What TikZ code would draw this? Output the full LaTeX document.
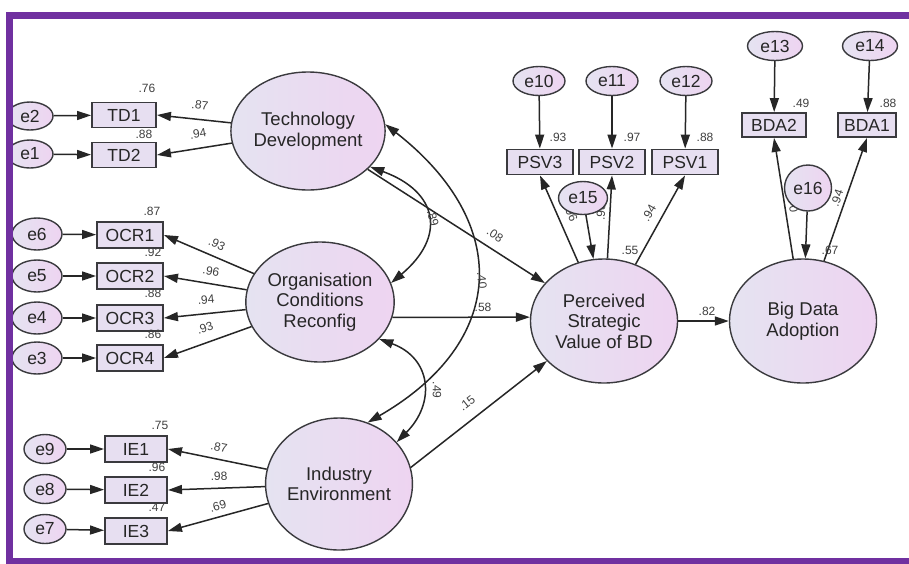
\documentclass[tikz,border=0pt]{standalone}
\usepackage{fontspec}
\setmainfont{Liberation Sans}
\usetikzlibrary{arrows.meta, shapes.geometric}

\definecolor{framepurple}{RGB}{112,48,160}
\definecolor{lavleft}{RGB}{229,227,241}
\definecolor{lavright}{RGB}{238,212,241}
\definecolor{boxfill}{RGB}{231,223,241}
\definecolor{edgegray}{RGB}{58,58,62}

\begin{document}
\begin{tikzpicture}[
  x=1pt, y=-1pt,
  >={Triangle[length=14pt,width=9pt]},
  latent/.style={ellipse, draw=edgegray, line width=1.4pt, left color=lavleft, right color=lavright, inner sep=0pt, align=center, text=black!85, font=\fontsize{18.5}{20.5}\selectfont},
  obs/.style={rectangle, draw=edgegray, line width=1.9pt, fill=boxfill, minimum width=64pt, minimum height=25pt, inner sep=0pt, text=black!85, font=\fontsize{17.5}{17.5}\selectfont},
  err/.style={ellipse, draw=edgegray, line width=1.4pt, left color=lavleft, right color=lavright, minimum width=48pt, minimum height=30pt, inner sep=0pt, text=black!85, font=\fontsize{17.5}{17.5}\selectfont},
  coef/.style={inner sep=0pt, text=black!75, font=\fontsize{12}{12}\selectfont},
  reg/.style={->, line width=1.5pt, draw=black!85},
  cov/.style={<->, line width=1.5pt, draw=black!85}
]
\useasboundingbox (0,0) rectangle (909,563);
\fill[white] (0,0) rectangle (909,563);

% latent constructs
\node[latent, minimum width=137pt, minimum height=118pt] (td) at (308,131) {Technology\\Development};
\node[latent, minimum width=140pt, minimum height=120pt] (ocr) at (320,302) {Organisation\\Conditions\\Reconfig};
\node[latent, minimum width=138pt, minimum height=132pt] (ie) at (339,484) {Industry\\Environment};
\node[latent, minimum width=147pt, minimum height=124pt] (psv) at (604,321) {Perceived\\Strategic\\Value of BD};
\node[latent, minimum width=147pt, minimum height=124pt] (bda) at (803,321) {Big Data\\Adoption};

% indicators
\node[obs] (td1) at (124,115) {TD1};
\node[obs] (td2) at (124,155) {TD2};
\node[obs, minimum width=66pt, minimum height=26pt] (ocr1) at (130,235) {OCR1};
\node[obs, minimum width=66pt, minimum height=26pt] (ocr2) at (130,276) {OCR2};
\node[obs, minimum width=66pt, minimum height=26pt] (ocr3) at (130,318) {OCR3};
\node[obs, minimum width=66pt, minimum height=26pt] (ocr4) at (130,358) {OCR4};
\node[obs, minimum width=62pt, minimum height=26pt] (ie1) at (136,449) {IE1};
\node[obs, minimum width=62pt, minimum height=26pt] (ie2) at (136,490) {IE2};
\node[obs, minimum width=62pt, minimum height=26pt] (ie3) at (136,531) {IE3};
\node[obs, minimum width=66pt] (psv3) at (540,162) {PSV3};
\node[obs, minimum width=66pt] (psv2) at (612,162) {PSV2};
\node[obs, minimum width=66pt] (psv1) at (685,162) {PSV1};
\node[obs, minimum height=24pt] (bda2) at (774,125) {BDA2};
\node[obs, minimum width=58pt, minimum height=24pt] (bda1) at (867,125) {BDA1};

% error terms
\node[err, minimum width=46pt, minimum height=28pt] (e2) at (30,116) {e2};
\node[err, minimum width=46pt, minimum height=28pt] (e1) at (30,154) {e1};
\node[err, minimum width=50pt, minimum height=32pt] (e6) at (37,234) {e6};
\node[err, minimum width=50pt, minimum height=32pt] (e5) at (37,276) {e5};
\node[err, minimum width=50pt, minimum height=32pt] (e4) at (37,318) {e4};
\node[err, minimum width=50pt, minimum height=32pt] (e3) at (37,358) {e3};
\node[err, minimum width=42pt, minimum height=29pt] (e9) at (45,449) {e9};
\node[err, minimum width=42pt, minimum height=29pt] (e8) at (45,489) {e8};
\node[err, minimum width=42pt, minimum height=29pt] (e7) at (45,529) {e7};
\node[err, minimum width=52pt, minimum height=29pt] (e10) at (539,81) {e10};
\node[err, minimum width=52pt, minimum height=29pt] (e11) at (612,81) {e11};
\node[err, minimum width=52pt, minimum height=29pt] (e12) at (686,81) {e12};
\node[err, minimum width=55pt, minimum height=29pt] (e13) at (775,46) {e13};
\node[err, minimum width=55pt, minimum height=29pt] (e14) at (870,46) {e14};

% measurement paths
\draw[reg] (td) -- (td1.east);
\draw[reg] (td) -- (td2.east);
\draw[reg] (ocr) -- (ocr1.east);
\draw[reg] (ocr) -- (ocr2.east);
\draw[reg] (ocr) -- (ocr3.east);
\draw[reg] (ocr) -- (ocr4.east);
\draw[reg] (ie) -- (ie1.east);
\draw[reg] (ie) -- (ie2.east);
\draw[reg] (ie) -- (ie3.east);
\draw[reg] (psv) -- (psv3.south);
\draw[reg] (psv) -- (psv2.south);
\draw[reg] (psv) -- (psv1.south);
\draw[reg] (bda) -- (bda2.south);
\draw[reg] (bda) -- (bda1.south);

\draw[reg] (e2) -- (td1);
\draw[reg] (e1) -- (td2);
\draw[reg] (e6) -- (ocr1);
\draw[reg] (e5) -- (ocr2);
\draw[reg] (e4) -- (ocr3);
\draw[reg] (e3) -- (ocr4);
\draw[reg] (e9) -- (ie1);
\draw[reg] (e8) -- (ie2);
\draw[reg] (e7) -- (ie3);
\draw[reg] (e10) -- (psv3);
\draw[reg] (e11) -- (psv2);
\draw[reg] (e12) -- (psv1);
\draw[reg] (e13) -- (bda2);
\draw[reg] (e14) -- (bda1);

% structural paths
\draw[reg] (td) -- (psv);
\draw[reg] (ocr.-12) -- (psv.177);
\draw[reg] (ie.13) -- (psv.215);
\draw[reg] (psv) -- (bda);

% covariances
\draw[cov] (td.5) to[out=-38, in=30, looseness=1.38] (ie.65);
\draw[cov] (td.-30) to[out=-20, in=40, looseness=1.57] (ocr.15);
\draw[cov] (ocr.-32) to[out=-20, in=45, looseness=1.36] (ie.36);

% estimates partly under the disturbances
\node[coef, rotate=-66] (l-psv3) at (571,213) {.96};
\node[coef, rotate=87] (l-psv2) at (601,212) {.98};
\node[coef, rotate=-81] (l-bda2) at (793,204) {.70};

% disturbances
\node[err, minimum width=49pt, minimum height=33pt] (e15) at (583,198) {e15};
\node[err, minimum width=47pt, minimum height=46pt] (e16) at (808,188) {e16};
\draw[reg] (e15) -- (psv);
\draw[reg] (e16) -- (bda);

% estimates
\node[coef] (r-td1) at (147,88) {.76};
\node[coef] (r-td2) at (144,134) {.88};
\node[coef, rotate=-7] (l-td1) at (200,105) {.87};
\node[coef, rotate=10] (l-td2) at (198,134) {.94};
\node[coef] (r-ocr1) at (152,211) {.87};
\node[coef] (r-ocr2) at (153,252) {.92};
\node[coef] (r-ocr3) at (153,293) {.88};
\node[coef] (r-ocr4) at (153,334) {.86};
\node[coef, rotate=-26] (l-ocr1) at (217,244) {.93};
\node[coef, rotate=-11] (l-ocr2) at (211,271) {.96};
\node[coef, rotate=5] (l-ocr3) at (206,300) {.94};
\node[coef, rotate=20] (l-ocr4) at (205,328) {.93};
\node[coef] (r-ie1) at (160,425) {.75};
\node[coef] (r-ie2) at (157,467) {.96};
\node[coef] (r-ie3) at (157,507) {.47};
\node[coef, rotate=-11] (l-ie1) at (219,447) {.87};
\node[coef, rotate=2] (l-ie2) at (219,476) {.98};
\node[coef, rotate=15] (l-ie3) at (218,506) {.69};
\node[coef] (r-psv3) at (558,137) {.93};
\node[coef] (r-psv2) at (632,137) {.97};
\node[coef] (r-psv1) at (705,137) {.88};
\node[coef, rotate=60] (l-psv1) at (649,213) {.94};
\node[coef] (r-psv) at (630,250) {.55};
\node[coef] (r-bda2) at (801,103) {.49};
\node[coef] (r-bda1) at (888,103) {.88};
\node[coef, rotate=71] (l-bda1) at (837,198) {.94};
\node[coef] (r-bda) at (830,250) {.67};
\node[coef, rotate=-34] (b-td) at (495,235) {.08};
\node[coef] (b-ocr) at (483,307) {.58};
\node[coef, rotate=38] (b-ie) at (467,403) {.15};
\node[coef] (b-psv) at (707,311) {.82};
\node[coef, rotate=-75] (c-tdocr) at (433,218) {.89};
\node[coef, rotate=-85] (c-tdie) at (482,280) {.40};
\node[coef, rotate=-90] (c-ocrie) at (437,390) {.49};

% frame
\draw[framepurple, line width=7pt] (930,15) -- (9.5,15) -- (9.5,561.5) -- (930,561.5);
\end{tikzpicture}
\end{document}
